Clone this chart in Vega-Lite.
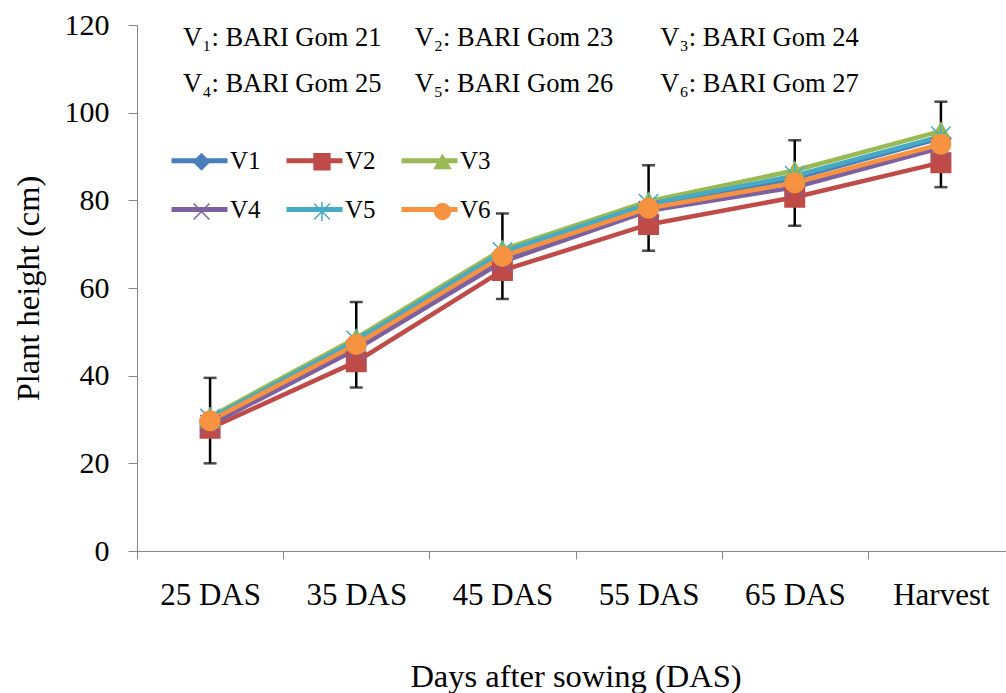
{
  "$schema": "https://vega.github.io/schema/vega-lite/v6.json",
  "width": 869,
  "height": 526,
  "autosize": "none",
  "padding": {"left": 137, "top": 25, "right": 0, "bottom": 142},
  "background": "white",
  "config": {
    "view": {"stroke": null},
    "font": "Liberation Serif",
    "axis": {
      "domainColor": "#868686",
      "tickColor": "#868686",
      "labelColor": "black",
      "titleColor": "black",
      "titleFontWeight": "normal",
      "labelFont": "Liberation Serif",
      "titleFont": "Liberation Serif",
      "grid": false
    },
    "axisY": {
      "labelFontSize": 30,
      "titleFontSize": 32.5,
      "tickSize": 9,
      "labelPadding": 19,
      "titlePadding": 19
    },
    "legend": {"labelFont": "Liberation Serif", "labelColor": "black"}
  },
  "datasets": {
    "heights": [
      {"stage": "25 DAS", "variety": "V1", "height": 29.4},
      {"stage": "25 DAS", "variety": "V2", "height": 28.0},
      {"stage": "25 DAS", "variety": "V3", "height": 30.6},
      {"stage": "25 DAS", "variety": "V4", "height": 28.8},
      {"stage": "25 DAS", "variety": "V5", "height": 30.2},
      {"stage": "25 DAS", "variety": "V6", "height": 29.7},
      {"stage": "35 DAS", "variety": "V1", "height": 46.8},
      {"stage": "35 DAS", "variety": "V2", "height": 43.2},
      {"stage": "35 DAS", "variety": "V3", "height": 48.6},
      {"stage": "35 DAS", "variety": "V4", "height": 46.0},
      {"stage": "35 DAS", "variety": "V5", "height": 48.0},
      {"stage": "35 DAS", "variety": "V6", "height": 47.1},
      {"stage": "45 DAS", "variety": "V1", "height": 66.8},
      {"stage": "45 DAS", "variety": "V2", "height": 64.0},
      {"stage": "45 DAS", "variety": "V3", "height": 68.8},
      {"stage": "45 DAS", "variety": "V4", "height": 66.0},
      {"stage": "45 DAS", "variety": "V5", "height": 68.2},
      {"stage": "45 DAS", "variety": "V6", "height": 67.2},
      {"stage": "55 DAS", "variety": "V1", "height": 78.6},
      {"stage": "55 DAS", "variety": "V2", "height": 74.5},
      {"stage": "55 DAS", "variety": "V3", "height": 79.8},
      {"stage": "55 DAS", "variety": "V4", "height": 77.6},
      {"stage": "55 DAS", "variety": "V5", "height": 79.2},
      {"stage": "55 DAS", "variety": "V6", "height": 78.2},
      {"stage": "65 DAS", "variety": "V1", "height": 85.0},
      {"stage": "65 DAS", "variety": "V2", "height": 80.7},
      {"stage": "65 DAS", "variety": "V3", "height": 86.8},
      {"stage": "65 DAS", "variety": "V4", "height": 83.0},
      {"stage": "65 DAS", "variety": "V5", "height": 85.6},
      {"stage": "65 DAS", "variety": "V6", "height": 84.0},
      {"stage": "Harvest", "variety": "V1", "height": 94.2},
      {"stage": "Harvest", "variety": "V2", "height": 88.6},
      {"stage": "Harvest", "variety": "V3", "height": 95.8},
      {"stage": "Harvest", "variety": "V4", "height": 92.0},
      {"stage": "Harvest", "variety": "V5", "height": 94.6},
      {"stage": "Harvest", "variety": "V6", "height": 92.8}
    ],
    "err": [
      {"stage": "25 DAS", "lo": 20.0, "hi": 39.5},
      {"stage": "35 DAS", "lo": 37.3, "hi": 56.8},
      {"stage": "45 DAS", "lo": 57.5, "hi": 77.0},
      {"stage": "55 DAS", "lo": 68.5, "hi": 88.0},
      {"stage": "65 DAS", "lo": 74.2, "hi": 93.7},
      {"stage": "Harvest", "lo": 83.0, "hi": 102.5}
    ],
    "notes": [
      {"label": "V₁: BARI Gom 21", "col": 0.315, "row": 117.1},
      {"label": "V₂: BARI Gom 23", "col": 1.9, "row": 117.1},
      {"label": "V₃: BARI Gom 24", "col": 3.58, "row": 117.1},
      {"label": "V₄: BARI Gom 25", "col": 0.315, "row": 106.5},
      {"label": "V₅: BARI Gom 26", "col": 1.9, "row": 106.5},
      {"label": "V₆: BARI Gom 27", "col": 3.58, "row": 106.5}
    ]
  },
  "layer": [
    {
      "encoding": {
        "x": {
          "field": "stage",
          "type": "nominal",
          "sort": ["25 DAS", "35 DAS", "45 DAS", "55 DAS", "65 DAS", "Harvest"],
          "scale": {"type": "band", "paddingInner": 0, "paddingOuter": 0, "range": [0, 877]},
          "axis": {
            "title": "Days after sowing (DAS)",
            "labelAngle": 0,
            "labelFontSize": 31,
            "titleFontSize": 32.5,
            "tickBand": "extent",
            "tickSize": 8,
            "labelPadding": 21,
            "titlePadding": 50
          }
        }
      },
      "layer": [
        {
          "data": {"name": "err"},
          "mark": {
            "type": "errorbar",
            "color": "black",
            "thickness": 2.5,
            "ticks": {"size": 13, "thickness": 2.5, "color": "black"},
            "rule": {"strokeWidth": 2.5, "color": "black"}
          },
          "encoding": {
            "y": {"field": "lo", "type": "quantitative", "scale": {"domain": [0, 120]}, "axis": {"title": "Plant height (cm)", "values": [0, 20, 40, 60, 80, 100, 120]}},
            "y2": {"field": "hi"}
          }
        },
        {
          "data": {"name": "heights"},
          "mark": {"type": "line", "strokeWidth": 4.5},
          "encoding": {
            "y": {"field": "height", "type": "quantitative", "scale": {"domain": [0, 120]}, "axis": {"title": "Plant height (cm)", "values": [0, 20, 40, 60, 80, 100, 120]}},
            "color": {
              "field": "variety",
              "type": "nominal",
              "scale": {
                "domain": ["V1", "V2", "V3", "V4", "V5", "V6"],
                "range": ["#4A7EBB", "#BE4B48", "#98B954", "#7D60A0", "#46AAC5", "#F69240"]
              },
              "legend": {
                "title": null,
                "orient": "none",
                "direction": "horizontal",
                "legendX": 32,
                "legendY": 105,
                "columns": 3,
                "symbolType": "stroke",
                "symbolSize": 3136,
                "symbolStrokeWidth": 5,
                "labelFont": "Liberation Serif",
                "labelFontSize": 25,
                "labelOffset": 0,
                "columnPadding": 15,
                "rowPadding": 5
              }
            }
          }
        },
        {
          "data": {"name": "heights"},
          "mark": {"type": "point", "filled": true, "size": 380, "strokeWidth": 1.5, "opacity": 1},
          "encoding": {
            "y": {"field": "height", "type": "quantitative", "scale": {"domain": [0, 120]}, "axis": {"title": "Plant height (cm)", "values": [0, 20, 40, 60, 80, 100, 120]}},
            "fill": {
              "field": "variety",
              "type": "nominal",
              "scale": {"range": ["#4A7EBB", "#BE4B48", "#98B954", "#7D60A0", "#46AAC5", "#F69240"]},
              "legend": {
                "title": null, "orient": "none", "direction": "horizontal", "legendX": 52, "legendY": 124, "columns": 3,
                "symbolSize": 250, "labelExpr": "''", "labelFontSize": 25, "labelOffset": 0,
                "columnPadding": 95.5, "rowPadding": 24
              }
            },
            "stroke": {
              "field": "variety",
              "type": "nominal",
              "scale": {"range": ["#4A7EBB", "#BE4B48", "#98B954", "#7D60A0", "#46AAC5", "#F69240"]},
              "legend": {
                "title": null, "orient": "none", "direction": "horizontal", "legendX": 52, "legendY": 124, "columns": 3,
                "symbolSize": 250, "labelExpr": "''", "labelFontSize": 25, "labelOffset": 0,
                "columnPadding": 95.5, "rowPadding": 24
              }
            },
            "shape": {
              "field": "variety",
              "type": "nominal",
              "scale": {"range": ["diamond", "square", "triangle-up", "M -1 -1 L 1 1 M -1 1 L 1 -1", "M -1 -1 L 1 1 M -1 1 L 1 -1 M 0 -1.2 L 0 1.2", "circle"]},
              "legend": {
                "title": null, "orient": "none", "direction": "horizontal", "legendX": 52, "legendY": 124, "columns": 3,
                "symbolSize": 250, "labelExpr": "''", "labelFontSize": 25, "labelOffset": 0,
                "columnPadding": 95.5, "rowPadding": 24
              }
            }
          }
        }
      ]
    },
    {
      "data": {"name": "notes"},
      "mark": {"type": "text", "align": "left", "baseline": "middle", "fontSize": 26.5, "font": "Liberation Serif", "color": "black"},
      "encoding": {
        "x": {"field": "col", "type": "quantitative", "scale": {"domain": [0, 6], "range": [0, 877]}, "axis": null},
        "y": {"field": "row", "type": "quantitative", "scale": {"domain": [0, 120]}, "axis": {"title": "Plant height (cm)", "values": [0, 20, 40, 60, 80, 100, 120]}},
        "text": {"field": "label"}
      }
    }
  ],
  "resolve": {"scale": {"x": "independent"}, "axis": {"y": "shared"}}
}
